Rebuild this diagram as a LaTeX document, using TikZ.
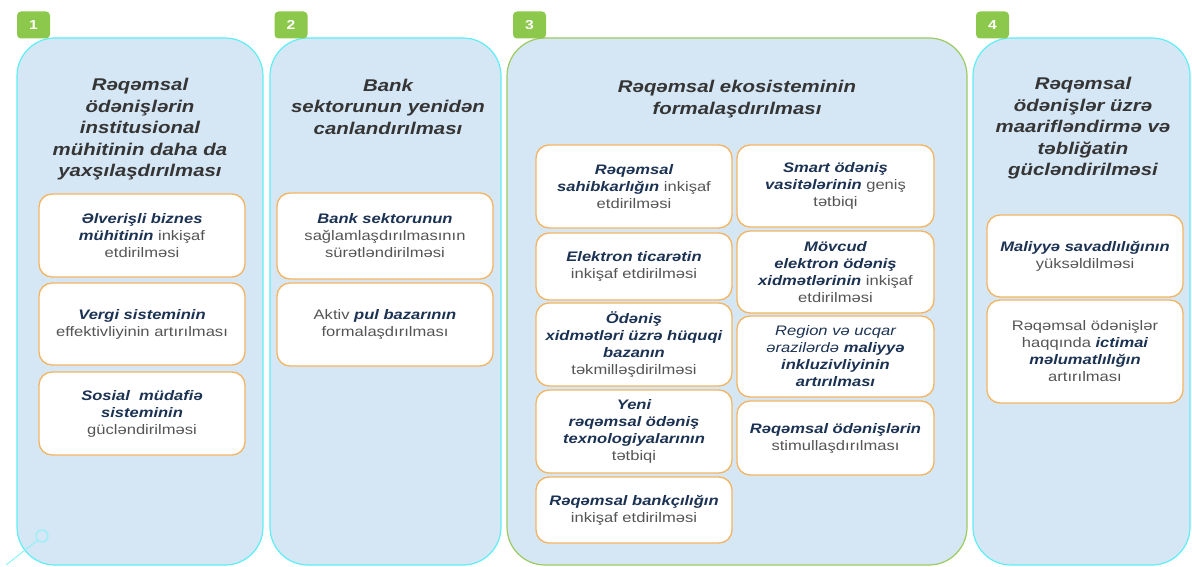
\documentclass[tikz,border=0pt]{standalone}
\usepackage{fontspec}
\setmainfont{Liberation Sans}[FakeStretch=1.2]
\definecolor{panelfill}{HTML}{D5E6F5}
\definecolor{cyanedge}{HTML}{5EEFF5}
\definecolor{greenedge}{HTML}{9CCB60}
\definecolor{badgegreen}{HTML}{8CC84B}
\definecolor{boxedge}{HTML}{F3B562}
\definecolor{navy}{HTML}{1C3253}
\definecolor{bodygray}{HTML}{555555}
\definecolor{titlegray}{HTML}{353535}
\newcommand\hl[1]{{\bfseries\itshape\color{navy}#1}}
\begin{document}
\begin{tikzpicture}[x=1pt,y=-1pt,
  panel/.style={fill=panelfill, draw=cyanedge, line width=1.2pt, rounded corners=38pt},
  panelgreen/.style={panel, draw=greenedge},
  badge/.style={fill=badgegreen, rounded corners=4pt, minimum width=33pt, minimum height=27pt, inner sep=0pt, text=white, font=\fontsize{13}{15}\selectfont\bfseries},
  title/.style={align=center, text=titlegray, font=\fontsize{17}{21.5}\selectfont\bfseries\itshape, inner sep=0pt},
  box/.style={draw=boxedge, fill=white, line width=1.3pt, rounded corners=13pt, align=center, inner sep=2pt, text=bodygray, font=\fontsize{13.8}{17}\selectfont}
]
\useasboundingbox (0,0) rectangle (1192,567);
\fill[white] (0,0) rectangle (1192,567);

% panels
\path[panel] (17,38) rectangle (263,565);
\path[panel] (270,38) rectangle (501,565);
\path[panelgreen] (507,38) rectangle (967,565);
\path[panel] (973,38) rectangle (1190,565);

% badges
\node[badge] (n1) at (33.5,25) {1};
\node[badge] (n2) at (291,25) {2};
\node[badge] (n3) at (529.5,25) {3};
\node[badge] (n4) at (992.5,25) {4};

% decoration
\draw[cyanedge!70, line width=1pt] (42,536) circle (6pt);
\draw[cyanedge!70, line width=1pt] (37.8,540.2) -- (6,565);

% titles
\node[title] (t1) at (140,129.5) {Rəqəmsal\\ödənişlərin\\institusional\\mühitinin daha da\\yaxşılaşdırılması};
\node[title] (t2) at (388,106.5) {Bank\\sektorunun yenidən\\canlandırılması};
\node[title] (t3) at (737,99) {Rəqəmsal ekosisteminin\\formalaşdırılması};
\node[title] (t4) at (1083,128.5) {Rəqəmsal\\ödənişlər üzrə\\maarifləndirmə və\\təbliğatin\\gücləndirilməsi};

% panel 1 boxes
\node[box, minimum width=206pt, minimum height=83pt] (b11) at (142,235.5) {\hl{Əlverişli biznes}\\\hl{mühitinin} inkişaf\\etdirilməsi};
\node[box, minimum width=206pt, minimum height=82pt] (b12) at (142,324) {\hl{Vergi sisteminin}\\effektivliyinin artırılması};
\node[box, minimum width=206pt, minimum height=83pt] (b13) at (142,413.5) {\hl{Sosial\ \ müdafiə}\\\hl{sisteminin}\\gücləndirilməsi};

% panel 2 boxes
\node[box, minimum width=216pt, minimum height=86pt] (b21) at (385,236) {\hl{Bank sektorunun}\\sağlamlaşdırılmasının\\sürətləndirilməsi};
\node[box, minimum width=216pt, minimum height=83pt] (b22) at (385,324.5) {Aktiv \hl{pul bazarının}\\formalaşdırılması};

% panel 3 left column
\node[box, minimum width=196pt, minimum height=83pt] (b31) at (634,186.5) {\hl{Rəqəmsal}\\\hl{sahibkarlığın} inkişaf\\etdirilməsi};
\node[box, minimum width=196pt, minimum height=67pt] (b32) at (634,266.5) {\hl{Elektron ticarətin}\\inkişaf etdirilməsi};
\node[box, minimum width=196pt, minimum height=83pt] (b33) at (634,344.5) {\hl{Ödəniş}\\\hl{xidmətləri üzrə hüquqi}\\\hl{bazanın}\\təkmilləşdirilməsi};
\node[box, minimum width=196pt, minimum height=83pt] (b34) at (634,431.5) {\hl{Yeni}\\\hl{rəqəmsal ödəniş}\\\hl{texnologiyalarının}\\tətbiqi};
\node[box, minimum width=196pt, minimum height=66pt] (b35) at (634,510) {\hl{Rəqəmsal bankçılığın}\\inkişaf etdirilməsi};

% panel 3 right column
\node[box, minimum width=197pt, minimum height=82pt] (b36) at (835.5,186) {\hl{Smart ödəniş}\\\hl{vasitələrinin} geniş\\tətbiqi};
\node[box, minimum width=197pt, minimum height=82pt] (b37) at (835.5,272) {\hl{Mövcud}\\\hl{elektron ödəniş}\\\hl{xidmətlərinin} inkişaf\\etdirilməsi};
\node[box, minimum width=197pt, minimum height=81pt] (b38) at (835.5,356.5) {{\itshape\color{navy}Region və ucqar}\\{\itshape\color{navy}ərazilərdə} \hl{maliyyə}\\\hl{inkluzivliyinin}\\\hl{artırılması}};
\node[box, minimum width=197pt, minimum height=74pt] (b39) at (835.5,438) {\hl{Rəqəmsal ödənişlərin}\\stimullaşdırılması};

% panel 4 boxes
\node[box, minimum width=196pt, minimum height=82pt] (b41) at (1085,256) {\hl{Maliyyə savadlılığının}\\yüksəldilməsi};
\node[box, minimum width=196pt, minimum height=103pt] (b42) at (1085,351.5) {Rəqəmsal ödənişlər\\haqqında \hl{ictimai}\\\hl{məlumatlılığın}\\artırılması};
\end{tikzpicture}
\end{document}
